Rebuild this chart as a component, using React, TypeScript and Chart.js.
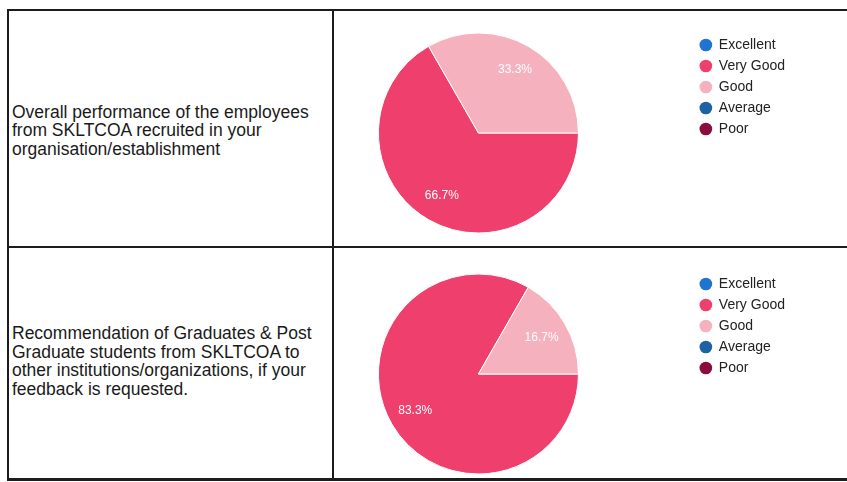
import React, { useEffect, useRef } from "react";
import { Chart, registerables } from "chart.js";

Chart.register(...registerables);

// ---- data ----
const categories = ["Excellent", "Very Good", "Good", "Average", "Poor"];
const performanceShares = [0, 66.7, 33.3, 0, 0];
const recommendationShares = [0, 83.3, 16.7, 0, 0];
const categoryColors = ["#1f74d2", "#ef3f6d", "#f6b1bf", "#1d62a3", "#8a0d3e"];
const questionPerformance = [
  "Overall performance of the employees",
  "from SKLTCOA recruited in your",
  "organisation/establishment",
];
const questionRecommendation = [
  "Recommendation of Graduates & Post",
  "Graduate students from SKLTCOA to",
  "other institutions/organizations, if your",
  "feedback is requested.",
];

const FONT = "'Liberation Sans', Arial, Helvetica, sans-serif";

const sliceLabels = {
  id: "sliceLabels",
  afterDatasetsDraw(chart: any) {
    const meta = chart.getDatasetMeta(0);
    const data = chart.data.datasets[0].data as number[];
    const total = data.reduce((a: number, b: number) => a + b, 0);
    const ctx = chart.ctx;
    ctx.save();
    ctx.fillStyle = "#ffffff";
    ctx.font = `12px ${FONT}`;
    ctx.textAlign = "center";
    ctx.textBaseline = "middle";
    meta.data.forEach((arc: any, i: number) => {
      const v = data[i];
      if (!v) return;
      const p = arc.getProps(["x", "y", "startAngle", "endAngle", "outerRadius"], true);
      const mid = (p.startAngle + p.endAngle) / 2;
      const r = p.outerRadius * 0.73;
      ctx.fillText(((v / total) * 100).toFixed(1) + "%", p.x + Math.cos(mid) * r, p.y + Math.sin(mid) * r);
    });
    ctx.restore();
  },
};

function PieCanvas(props: {
  values: number[];
  style: React.CSSProperties;
  width: number;
  height: number;
  padding: { left: number; right: number; top: number; bottom: number };
}) {
  const ref = useRef<HTMLCanvasElement | null>(null);
  useEffect(() => {
    if (!ref.current) return;
    const defaultGen = (Chart as any).overrides.doughnut.plugins.legend.labels.generateLabels;
    const chart = new Chart(ref.current, {
      type: "pie",
      data: {
        labels: categories,
        datasets: [
          {
            data: props.values,
            backgroundColor: categoryColors,
            borderColor: "#ffffff",
            borderWidth: 1,
            clip: false as any,
          },
        ],
      },
      options: {
        responsive: false,
        animation: false,
        rotation: 90,
        radius: 100,
        layout: { padding: props.padding },
        events: [],
        plugins: {
          tooltip: { enabled: false },
          legend: {
            position: "right",
            align: "start",
            labels: {
              usePointStyle: true,
              pointStyle: "circle",
              boxWidth: 12,
              boxHeight: 9,
              padding: 7,
              color: "#222222",
              font: { family: FONT, size: 14 },
              generateLabels: (c: any) =>
                defaultGen(c).map((l: any) => ({ ...l, lineWidth: 0, strokeStyle: l.fillStyle })),
            },
          },
        },
      } as any,
      plugins: [sliceLabels],
    });
    return () => chart.destroy();
  }, []);
  return <canvas ref={ref} width={props.width} height={props.height} style={props.style} />;
}

const line = (s: React.CSSProperties): React.CSSProperties => ({
  position: "absolute",
  background: "#1c1c1c",
  ...s,
});

export default function App() {
  const textStyle: React.CSSProperties = {
    position: "absolute",
    left: 12,
    fontFamily: FONT,
    fontSize: 17.5,
    lineHeight: "18.6px",
    color: "#1a1a1a",
    whiteSpace: "nowrap",
  };
  return (
    <div
      style={{
        position: "fixed",
        left: 0,
        top: 0,
        width: 847,
        height: 482,
        overflow: "hidden",
        background: "#ffffff",
      }}
    >
      <div style={line({ left: 7, top: 9, width: 840, height: 2 })} />
      <div style={line({ left: 7, top: 9, width: 2, height: 471 })} />
      <div style={line({ left: 332, top: 9, width: 2, height: 471 })} />
      <div style={line({ left: 7, top: 246, width: 840, height: 2 })} />
      <div style={line({ left: 7, top: 478, width: 840, height: 3 })} />

      <div style={{ ...textStyle, top: 102.5 }}>
        {questionPerformance.map((t, i) => (
          <div key={i}>{t}</div>
        ))}
      </div>
      <div style={{ ...textStyle, top: 324 }}>
        {questionRecommendation.map((t, i) => (
          <div key={i}>{t}</div>
        ))}
      </div>

      <PieCanvas
        values={performanceShares}
        width={587}
        height={234}
        padding={{ left: 4, right: 52, top: 19, bottom: 11 }}
        style={{ position: "absolute", left: 260, top: 12 }}
      />
      <PieCanvas
        values={recommendationShares}
        width={587}
        height={230}
        padding={{ left: 4, right: 52, top: 22, bottom: 0 }}
        style={{ position: "absolute", left: 260, top: 248 }}
      />
    </div>
  );
}
